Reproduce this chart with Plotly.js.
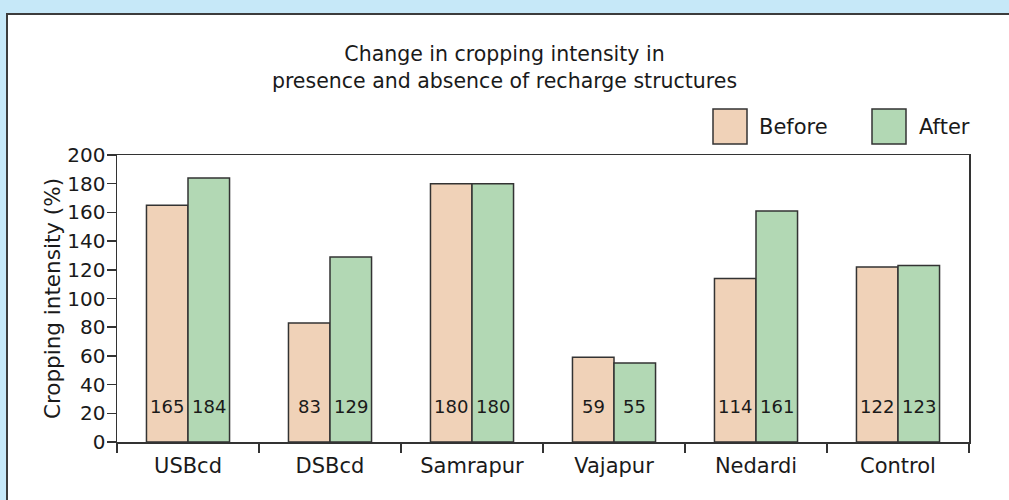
<!DOCTYPE html>
<html>
<head>
<meta charset="utf-8">
<script src="https://cdn.plot.ly/plotly-3.0.1.min.js"></script>
<style>
  html, body { margin: 0; padding: 0; width: 1009px; height: 500px; overflow: hidden; background: #c6e8f8; }
  #frame { position: absolute; left: 6px; top: 13px; right: -10px; bottom: -10px; background: #ffffff;
           border-left: 2px solid #3c3c3c; border-top: 2px solid #3c3c3c; }
  #chart { position: absolute; left: 0; top: 0; width: 1009px; height: 500px; }
</style>
</head>
<body>
<div id="frame"></div>
<div id="chart"></div>
<script>
const categories = ["USBcd", "DSBcd", "Samrapur", "Vajapur", "Nedardi", "Control"];
const beforeValues = [165, 83, 180, 59, 114, 122];
const afterValues = [184, 129, 180, 55, 161, 123];
const seriesNames = ["Before", "After"];
const yTicks = [0, 20, 40, 60, 80, 100, 120, 140, 160, 180, 200];
const titleText = "Change in cropping intensity in<br>presence and absence of recharge structures";
const yTitle = "Cropping intensity (%)";
const labelLevel = 25;

const W = 1009, H = 500;
const M = {l: 117, r: 40, t: 155, b: 58};
const plotW = W - M.l - M.r, plotH = H - M.t - M.b;
const px = x => (x - M.l) / plotW;
const py = y => (H - M.b - y) / plotH;

const FONT = "DejaVu Sans, sans-serif";
const TXT = "#1a1a1a";
const LINE = "#333333";
const colBefore = "#f0d2b8";
const colAfter = "#b2d8b4";
const bargap = 0.415;

const traces = [
  {type: "bar", name: seriesNames[0], x: categories, y: beforeValues,
   marker: {color: colBefore, line: {color: LINE, width: 1.5}}, hoverinfo: "x+y"},
  {type: "bar", name: seriesNames[1], x: categories, y: afterValues,
   marker: {color: colAfter, line: {color: LINE, width: 1.5}}, hoverinfo: "x+y"}
];

const half = plotW / categories.length * (1 - bargap) / 4;
const annotations = [];
categories.forEach((c, i) => {
  annotations.push({x: c, y: labelLevel, xref: "x", yref: "y", text: String(beforeValues[i]),
    showarrow: false, xshift: -half, font: {family: FONT, size: 18, color: TXT}});
  annotations.push({x: c, y: labelLevel, xref: "x", yref: "y", text: String(afterValues[i]),
    showarrow: false, xshift: half, font: {family: FONT, size: 18, color: TXT}});
});

// legend (manual, large swatches)
const legendItems = [
  {name: seriesNames[0], color: colBefore, x0: 713, x1: 747, tx: 757},
  {name: seriesNames[1], color: colAfter, x0: 872, x1: 906, tx: 917}
];
const shapes = [];
legendItems.forEach(it => {
  shapes.push({type: "rect", xref: "paper", yref: "paper", x0: px(it.x0), x1: px(it.x1),
    y0: py(144), y1: py(109), fillcolor: it.color, line: {color: LINE, width: 1.5}});
  annotations.push({xref: "paper", yref: "paper", x: px(it.tx), y: py(127), xanchor: "left",
    yanchor: "middle", text: it.name, showarrow: false, font: {family: FONT, size: 21, color: TXT}});
});

const layout = {
  width: W, height: H,
  margin: M,
  paper_bgcolor: "rgba(0,0,0,0)",
  plot_bgcolor: "#ffffff",
  showlegend: false,
  barmode: "group",
  bargap: bargap,
  bargroupgap: 0,
  font: {family: FONT, size: 18, color: TXT},
  title: {text: titleText, xref: "container", yref: "container", x: 0.5, y: 1 - 61 / H,
    xanchor: "center", yanchor: "top", font: {family: FONT, size: 20.5, color: TXT}},
  xaxis: {type: "category", showline: true, linecolor: LINE, linewidth: 1.5, mirror: true,
    ticks: "outside", tickson: "boundaries", ticklen: 9, tickwidth: 1.5, tickcolor: LINE,
    ticklabelstandoff: 4,
    showgrid: false, zeroline: false, tickfont: {family: FONT, size: 21, color: TXT}},
  yaxis: {range: [0, 200], tickvals: yTicks, showline: true, linecolor: LINE, linewidth: 1.5,
    mirror: true, ticks: "outside", ticklen: 9, tickwidth: 1.5, tickcolor: LINE,
    ticklabelstandoff: -3,
    showgrid: false, zeroline: false, tickfont: {family: FONT, size: 20, color: TXT},
    title: {text: yTitle, standoff: 1, font: {family: FONT, size: 21.5, color: TXT}}},
  shapes: shapes,
  annotations: annotations
};

Plotly.newPlot("chart", traces, layout, {displayModeBar: false, staticPlot: true});
</script>
</body>
</html>
